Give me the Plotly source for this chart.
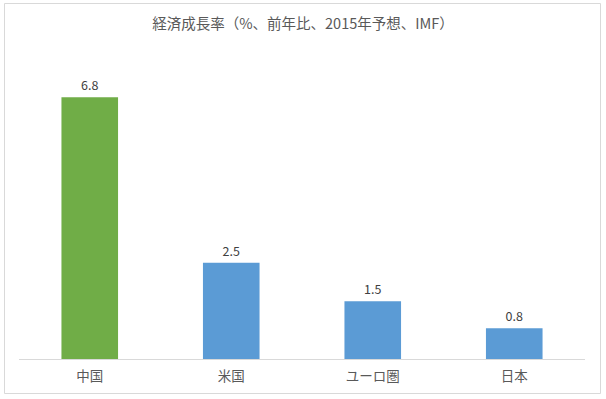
import plotly.graph_objects as go

categories = ["中国", "米国", "ユーロ圏", "日本"]
values = [6.8, 2.5, 1.5, 0.8]
bar_colors = ["#70AD47", "#5B9BD5", "#5B9BD5", "#5B9BD5"]
title_text = "経済成長率（%、前年比、2015年予想、IMF）"

W, H = 606, 399
L, R, T, B = 19, 21, 51, 40
pw, ph = W - L - R, H - T - B

def px_to_paper_x(px):
    return (px - L) / pw

def px_to_paper_y(py):
    return (H - B - py) / ph

font_family = "Noto Sans CJK JP, Noto Sans, sans-serif"

fig = go.Figure(
    go.Bar(
        x=categories,
        y=values,
        marker=dict(color=bar_colors, line=dict(width=0)),
        text=[f"{v:.1f}" for v in values],
        textposition="outside",
        textfont=dict(size=12.5, color="#404040", family=font_family),
        cliponaxis=False,
        width=0.4,
    )
)

fig.update_layout(
    width=W,
    height=H,
    margin=dict(l=L, r=R, t=T, b=B),
    paper_bgcolor="white",
    plot_bgcolor="white",
    showlegend=False,
    title=dict(
        text=title_text,
        x=0.5,
        xanchor="center",
        y=1 - 24 / H,
        yanchor="middle",
        font=dict(size=14.5, color="#595959", family=font_family),
    ),
    xaxis=dict(
        showgrid=False,
        showline=True,
        linecolor="#d9d9d9",
        linewidth=1,
        ticks="outside",
        ticklen=5,
        tickcolor="rgba(0,0,0,0)",
        tickfont=dict(size=13.5, color="#595959", family=font_family),
    ),
    yaxis=dict(
        range=[0, 8],
        visible=False,
        showgrid=False,
    ),
    shapes=[
        dict(
            type="rect",
            xref="paper",
            yref="paper",
            x0=px_to_paper_x(4.5),
            x1=px_to_paper_x(600.5),
            y0=px_to_paper_y(393.5),
            y1=px_to_paper_y(3.5),
            line=dict(color="#d9d9d9", width=1),
            fillcolor="rgba(0,0,0,0)",
            layer="below",
        )
    ],
)

fig.write_html(
    "out.html",
    config={"displayModeBar": False},
    post_script="document.body.style.margin='0';document.body.style.padding='0';document.body.style.overflow='hidden';",
)
